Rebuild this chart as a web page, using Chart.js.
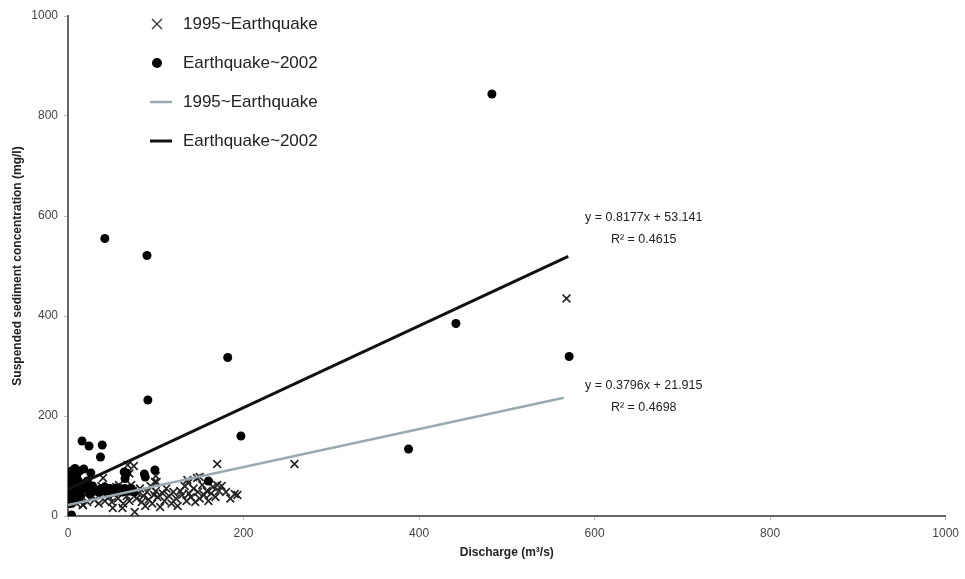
<!DOCTYPE html>
<html>
  <head>
    <title>Discharge vs suspended sediment</title>
    <script src="https://cdn.jsdelivr.net/npm/chart.js@4/dist/chart.umd.min.js"></script>
    <style>
      html, body { margin: 0; padding: 0; background: #fff; }
      #container { width: 965px; height: 579px; }
    </style>
  </head>

  <body>
    <div id="container">
      <canvas id="canvas"></canvas>
    </div>
    <script>
      // 1995~Earthquake (crosses)
      var preX = [3, 5, 8, 10, 12, 15, 17, 6, 20, 22, 25, 28, 30, 33, 35, 38, 40, 42, 45, 47, 50, 51, 53, 55, 57, 60, 62, 63, 65, 58,
        67, 70, 72, 74, 75, 76, 78, 80, 82, 84, 86, 88, 90, 92, 94, 96, 98, 100, 102, 105, 70,
        108, 110, 112, 115, 118, 120, 123, 125, 128, 130, 133, 135, 138, 140, 143, 145, 148, 150, 153, 155, 158, 160, 163, 165, 168,
        170, 172, 175, 180, 190, 185, 100, 99, 147, 137, 170, 40, 68, 101, 136, 150, 17, 193, 258, 568];
      var preY = [30, 45, 38, 25, 50, 35, 22, 60, 42, 28, 55, 40, 32, 48, 25, 60, 45, 30, 52, 38, 28, 16, 44, 58, 35, 48, 16, 25, 55, 62,
        40, 30, 62, 50, 100, 8, 35, 45, 55, 28, 40, 20, 48, 33, 60, 25, 42, 50, 38, 18, 85,
        45, 30, 55, 40, 25, 48, 35, 20, 50, 42, 60, 30, 45, 38, 55, 28, 48, 35, 62, 42, 50, 30, 45, 58, 38,
        104, 50, 60, 48, 44, 35, 80, 68, 76, 66, 62, 76, 102, 68, 72, 78, 22, 42, 104, 435];

      // Earthquake~2002 (dots)
      var postX = [4, 1, 1, 2, 2, 3, 3, 4, 4, 5, 5, 6, 6, 7, 7, 8, 8, 9, 10, 10, 11, 12, 12, 13, 14, 15, 16, 18, 24, 26, 39, 37,
        20, 22, 25, 28, 30, 32, 35, 38, 40, 42, 45, 48, 50, 52, 55, 58, 60, 62, 65, 68, 70, 72, 75, 64, 65, 67, 87, 88, 99, 160,
        91, 90, 42, 182, 197, 388, 442, 483, 571];
      var postY = [2, 30, 45, 60, 80, 25, 70, 50, 90, 35, 65, 40, 85, 55, 75, 30, 95, 45, 60, 80, 35, 70, 50, 90, 40, 60, 150, 94, 140, 86, 142, 118,
        55, 70, 45, 60, 50, 52, 48, 55, 50, 58, 50, 55, 52, 48, 56, 50, 54, 48, 55, 52, 50, 55, 48, 88, 75, 86, 84, 78, 92, 70,
        232, 521, 555, 317, 160, 134, 385, 844, 319];

      // fitted trend lines (end points)
      var preFitX = [0, 565];
      var preFitY = [21.9, 236.4];
      var postFitX = [0, 570];
      var postFitY = [53.1, 519.2];

      var labels = ['1995~Earthquake', 'Earthquake~2002', '1995~Earthquake', 'Earthquake~2002'];
      var equations = [
        { x: 656, y: 597, lines: ['y = 0.8177x + 53.141', 'R² = 0.4615'] },
        { x: 656, y: 261, lines: ['y = 0.3796x + 21.915', 'R² = 0.4698'] }
      ];

      function pts(xs, ys) {
        return xs.map(function (x, i) { return { x: x, y: ys[i] }; });
      }

      var font = '"Liberation Sans", Arial, sans-serif';

      var legendPlugin = {
        id: 'insideLegend',
        afterDraw: function (chart) {
          var ctx = chart.ctx;
          var sets = chart.data.datasets;
          ctx.save();
          ctx.font = '17px ' + font;
          ctx.textBaseline = 'middle';
          for (var i = 0; i < sets.length; i++) {
            var ds = sets[i];
            var y = 24 + i * 39;
            var sx = 157;
            if (ds.showLine) {
              ctx.strokeStyle = ds.borderColor;
              ctx.lineWidth = ds.borderWidth;
              ctx.beginPath();
              ctx.moveTo(sx - 7, y);
              ctx.lineTo(sx + 15, y);
              ctx.stroke();
            } else if (ds.pointStyle === 'crossRot') {
              ctx.strokeStyle = '#333';
              ctx.lineWidth = 1.3;
              ctx.beginPath();
              ctx.moveTo(sx - 5, y - 5); ctx.lineTo(sx + 5, y + 5);
              ctx.moveTo(sx + 5, y - 5); ctx.lineTo(sx - 5, y + 5);
              ctx.stroke();
            } else {
              ctx.fillStyle = '#000';
              ctx.beginPath();
              ctx.arc(sx, y, 5, 0, Math.PI * 2);
              ctx.fill();
            }
            ctx.fillStyle = '#222';
            ctx.textAlign = 'left';
            ctx.fillText(labels[i], 183, y);
          }
          ctx.restore();
        }
      };

      var equationPlugin = {
        id: 'equations',
        afterDatasetsDraw: function (chart) {
          var ctx = chart.ctx;
          var xs = chart.scales.x, ys = chart.scales.y;
          ctx.save();
          ctx.font = '12.5px ' + font;
          ctx.fillStyle = '#222';
          ctx.textAlign = 'center';
          ctx.textBaseline = 'middle';
          equations.forEach(function (e) {
            var px = xs.getPixelForValue(e.x);
            var py = ys.getPixelForValue(e.y);
            e.lines.forEach(function (t, k) {
              ctx.fillText(t, px, py + k * 22);
            });
          });
          ctx.restore();
        }
      };

      function plain(v) { return String(v); }

      window.onload = function () {
        var ctx = document.getElementById('canvas').getContext('2d');
        window.myChart = new Chart(ctx, {
          type: 'scatter',
          data: {
            datasets: [
              {
                label: labels[0],
                data: pts(preX, preY),
                pointStyle: 'crossRot',
                pointRadius: 5.5,
                borderColor: '#222',
                borderWidth: 1.6,
                backgroundColor: '#222',
                order: 2
              },
              {
                label: labels[1],
                data: pts(postX, postY),
                pointStyle: 'circle',
                pointRadius: 4.5,
                borderWidth: 0,
                backgroundColor: '#000',
                order: 1
              },
              {
                type: 'line',
                label: labels[2],
                data: pts(preFitX, preFitY),
                showLine: true,
                borderColor: '#98aab0',
                borderWidth: 2.5,
                pointRadius: 0,
                order: 0
              },
              {
                type: 'line',
                label: labels[3],
                data: pts(postFitX, postFitY),
                showLine: true,
                borderColor: '#111',
                borderWidth: 3,
                pointRadius: 0,
                order: 0
              }
            ]
          },
          options: {
            responsive: true,
            maintainAspectRatio: false,
            animation: false,
            layout: { padding: { top: 16, right: 18, bottom: 0, left: 0 } },
            plugins: {
              legend: { display: false },
              tooltip: { enabled: false }
            },
            scales: {
              x: {
                type: 'linear',
                min: 0,
                max: 1000,
                ticks: { stepSize: 200, color: '#444', font: { family: font, size: 12 }, padding: 6, callback: plain },
                grid: { drawOnChartArea: false, drawTicks: true, tickLength: 4, color: '#bbb' },
                border: { color: '#666', width: 2 },
                title: {
                  display: true,
                  text: 'Discharge (m³/s)',
                  color: '#222',
                  font: { family: font, size: 12, weight: 'bold' },
                  padding: { top: 4, bottom: 19 }
                },
                afterFit: function (s) { s.height = 63; }
              },
              y: {
                min: 0,
                max: 1000,
                ticks: { stepSize: 200, color: '#444', font: { family: font, size: 12 }, padding: 6, callback: plain },
                grid: { drawOnChartArea: false, drawTicks: true, tickLength: 4, color: '#bbb' },
                border: { color: '#666', width: 2 },
                title: {
                  display: true,
                  text: 'Suspended sediment concentration (mg/l)',
                  color: '#222',
                  font: { family: font, size: 12, weight: 'bold' },
                  padding: { top: 10, bottom: 2 }
                },
                afterFit: function (s) { s.width = 68; }
              }
            }
          },
          plugins: [legendPlugin, equationPlugin]
        });
      };
    </script>
  </body>
</html>
